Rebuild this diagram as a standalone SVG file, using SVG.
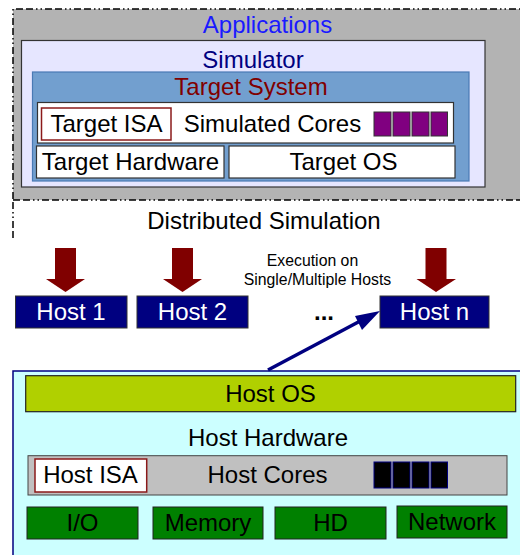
<svg xmlns="http://www.w3.org/2000/svg" width="520" height="555" viewBox="0 0 520 555">
<style>
text{font-family:"Liberation Sans",Arial,sans-serif;font-size:24px;text-anchor:middle;fill:#000}
.box{stroke:#333;stroke-width:1.2}
.dash{fill:none;stroke:#000;stroke-width:1.5;stroke-dasharray:7 3 7 3 1.5 3 1.5 3}
.red{fill:#800000}
.host{fill:#000080;stroke:#333;stroke-width:1}
.hostt{fill:#fff}
.purple{fill:#800080;stroke:#333;stroke-width:1}
.blk{fill:#000;stroke:#000080;stroke-width:1}
.grn{fill:#008000;stroke:#222;stroke-width:1}
.small{font-size:15.8px}
</style>
<g id="applications">
<rect x="13" y="9" width="520" height="191" fill="#b3b3b3"/>
<path class="dash" d="M13,238 L13,9 L525,9 M13,200 L525,200"/>
<text x="267.5" y="33" style="fill:#1a1aff">Applications</text>
</g>
<g id="simulator">
<rect x="21.5" y="40.5" width="463.5" height="146.5" fill="#e6e6ff" class="box"/>
<text x="253" y="68" style="fill:#000080">Simulator</text>
</g>
<g id="target-system">
<rect x="32.5" y="72" width="436.5" height="109" fill="#729fcf" stroke="#4a7ab5" stroke-width="1.2"/>
<text x="251" y="95" style="fill:#800000">Target System</text>
</g>
<g id="simulated-cores">
<rect x="37.5" y="102.5" width="416" height="40.5" fill="#fff" class="box"/>
<text x="272.5" y="132">Simulated Cores</text>
<rect x="374" y="112" width="17" height="24" class="purple"/>
<rect x="393" y="112" width="17" height="24" class="purple"/>
<rect x="412" y="112" width="17" height="24" class="purple"/>
<rect x="431" y="112" width="16.5" height="24" class="purple"/>
</g>
<g id="target-isa">
<rect x="41.5" y="108" width="129.5" height="32" fill="#fff" stroke="#8b1a1a" stroke-width="1.5"/>
<text x="106.5" y="132">Target ISA</text>
</g>
<g id="target-hardware">
<rect x="36.5" y="146" width="187.5" height="32" fill="#fff" class="box"/>
<text x="130.5" y="170">Target Hardware</text>
</g>
<g id="target-os">
<rect x="229" y="146" width="226" height="32" fill="#fff" class="box"/>
<text x="343.5" y="170">Target OS</text>
</g>
<g id="distributed-simulation">
<text x="264" y="229">Distributed Simulation</text>
</g>
<g id="execution-note">
<text x="312.5" y="266" class="small">Execution on</text>
<text x="317.5" y="285" class="small">Single/Multiple Hosts</text>
</g>
<g id="host1">
<rect x="15.5" y="296" width="111.5" height="32" class="host"/>
<text x="71" y="319.5" class="hostt">Host 1</text>
</g>
<g id="host2">
<rect x="137" y="296" width="111" height="32" class="host"/>
<text x="192.5" y="319.5" class="hostt">Host 2</text>
</g>
<g id="ellipsis">
<text x="324" y="320" style="font-weight:bold">...</text>
</g>
<g id="hostn">
<rect x="380" y="296" width="109" height="32" class="host"/>
<text x="434.5" y="319.5" class="hostt">Host n</text>
</g>
<g id="host-machine">
<rect x="13" y="371" width="520" height="200" fill="#ccffff" stroke="#000080" stroke-width="1.5"/>
</g>
<g id="host-os">
<rect x="25.7" y="375.7" width="490" height="36" fill="#b0d000" stroke="#222" stroke-width="1.2"/>
<text x="270.5" y="401.5">Host OS</text>
</g>
<g id="host-hardware">
<text x="268" y="445.5">Host Hardware</text>
</g>
<g id="host-cores">
<rect x="28" y="455.7" width="479" height="39.3" fill="#c0c0c0" stroke="#444" stroke-width="1"/>
<text x="267.5" y="483">Host Cores</text>
<rect x="374" y="462" width="17" height="26" class="blk"/>
<rect x="393" y="462" width="17" height="26" class="blk"/>
<rect x="412" y="462" width="17" height="26" class="blk"/>
<rect x="431" y="462" width="16.5" height="26" class="blk"/>
</g>
<g id="host-isa">
<rect x="35" y="459" width="111.7" height="33" fill="#fff" stroke="#8b1a1a" stroke-width="1.5"/>
<text x="90.5" y="483">Host ISA</text>
</g>
<g id="io">
<rect x="27" y="507" width="111" height="32" class="grn"/>
<text x="82.5" y="531">I/O</text>
</g>
<g id="memory">
<rect x="153" y="507" width="110" height="32" class="grn"/>
<text x="208" y="531">Memory</text>
</g>
<g id="hd">
<rect x="275" y="507" width="111" height="32" class="grn"/>
<text x="330.5" y="531">HD</text>
</g>
<g id="network">
<rect x="397" y="506" width="110" height="32" class="grn"/>
<text x="452" y="529.5">Network</text>
</g>
<g id="connectors">
<polygon class="red" points="55,248 76,248 76,279 85,279 65.5,292 46,279 55,279"/>
<polygon class="red" points="172,248 193,248 193,279 202,279 182.5,292 163,279 172,279"/>
<polygon class="red" points="425.5,248 446.5,248 446.5,279 456,279 436,292 416.5,279 425.5,279"/>
<line x1="268" y1="370" x2="364" y2="319" stroke="#000080" stroke-width="3.5"/>
<polygon points="380,311 362,330 355,316" fill="#000080"/>
</g>
</svg>
